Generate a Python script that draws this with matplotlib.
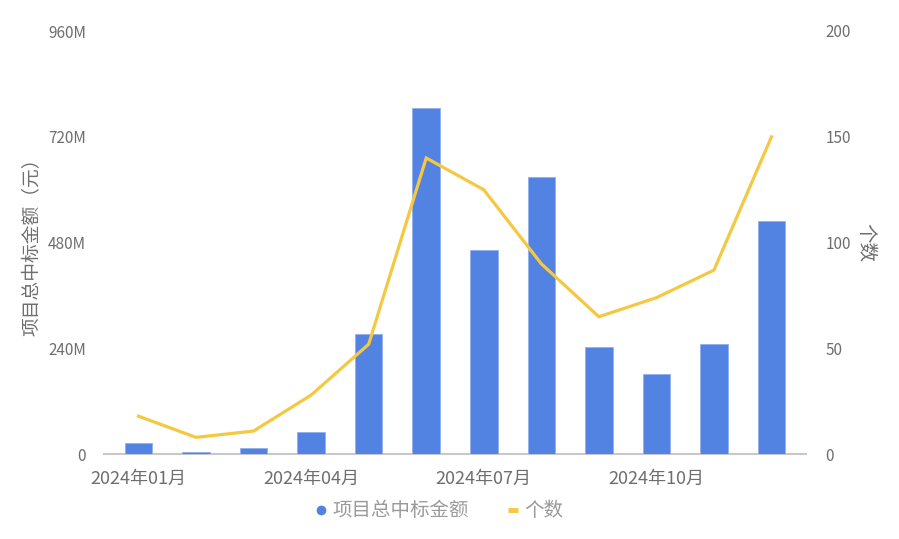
import matplotlib
matplotlib.use("Agg")
import matplotlib.pyplot as plt
from matplotlib.lines import Line2D
from matplotlib.ticker import FuncFormatter

plt.rcParams['font.family'] = ['Noto Sans CJK SC', 'DejaVu Sans']

months = ["2024年01月", "2024年02月", "2024年03月", "2024年04月", "2024年05月", "2024年06月",
          "2024年07月", "2024年08月", "2024年09月", "2024年10月", "2024年11月", "2024年12月"]
amount_m = [26, 6, 14, 51, 273, 786, 464, 628, 244, 182, 250, 528]   # 百万元
counts = [18, 8, 11, 28, 52, 140, 125, 90, 65, 74, 87, 150]
left_ticks = [0, 240, 480, 720, 960]
right_ticks = [0, 50, 100, 150, 200]

bar_color = "#5282E2"
line_color = "#F5C842"
tick_color = "#6e6e6e"

fig = plt.figure(figsize=(8.99, 5.39), dpi=100)
ax = fig.add_axes([104/899, 84.7/539, 702/899, 423.3/539])
ax2 = ax.twinx()

x = list(range(len(months)))
ax.bar(x, amount_m, width=0.48, color=bar_color, edgecolor="#8fb0ee", linewidth=0.6, zorder=2)
ax2.plot(x, counts, color=line_color, linewidth=2.3, solid_joinstyle='miter', zorder=3)

ax.set_xlim(-0.6, 11.6)
ax.set_ylim(0, 960)
ax2.set_ylim(0, 200)
ax.set_yticks(left_ticks)
ax.yaxis.set_major_formatter(FuncFormatter(lambda v, p: "0" if v == 0 else f"{int(v)}M"))
ax2.set_yticks(right_ticks)

ax.set_xticks(x[::3])
ax.set_xticklabels(months[::3])

for a in (ax, ax2):
    for s in a.spines.values():
        s.set_visible(False)
ax.spines['bottom'].set_visible(True)
ax.spines['bottom'].set_color("#c8c8c8")
ax.spines['bottom'].set_linewidth(1.5)
ax.spines['bottom'].set_zorder(1.5)

ax.tick_params(axis='y', length=0, pad=13, labelsize=11, labelcolor=tick_color)
ax2.tick_params(axis='y', length=0, pad=14, labelsize=11, labelcolor=tick_color)
ax.tick_params(axis='x', length=0, pad=11, labelsize=13, labelcolor=tick_color)

ax.set_ylabel("项目总中标金额（元）", fontsize=13.5, color=tick_color, labelpad=4)
ax2.set_ylabel("个数", fontsize=14, color=tick_color, rotation=-90, labelpad=18)

handles = [
    Line2D([], [], marker='o', linestyle='none', markersize=6, color=bar_color),
    Line2D([], [], color=line_color, linewidth=3.5, solid_capstyle='butt'),
]
fig.legend(handles, ["项目总中标金额", "个数"], loc='center', bbox_to_anchor=(440/899, 1 - 511/539),
           ncol=2, frameon=False, fontsize=14, labelcolor="#9a9a9a", handlelength=0.5,
           handletextpad=0.35, columnspacing=2.0)

fig.savefig("out.png", dpi=100)
